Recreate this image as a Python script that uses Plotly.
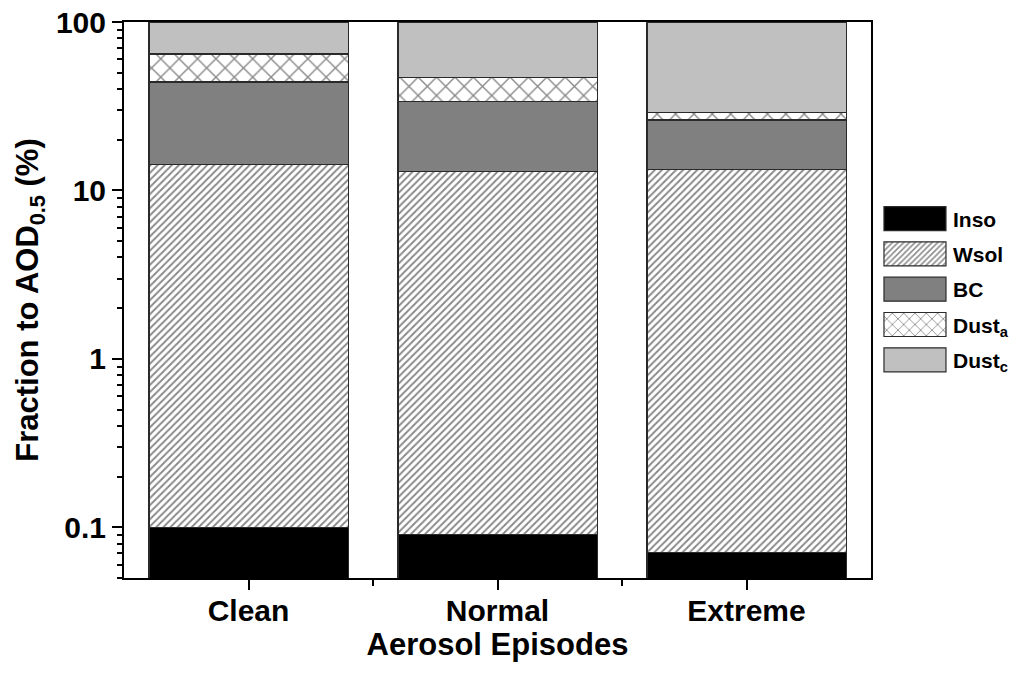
import plotly.graph_objects as go

episodes = ["Clean", "Normal", "Extreme"]
inso = [0.1, 0.091, 0.071]
wsol = [14.2, 12.8, 13.3]
bc = [29.7, 20.8, 12.8]
dust_a = [20.6, 13.0, 2.9]
dust_c = [35.4, 53.31, 70.93]

y_ticks = [0.1, 1, 10, 100]
y_ticktext = ["0.1", "1", "10", "100"]
y_minor = [m * d for d in [0.01, 0.1, 1, 10] for m in range(2, 10)]

FONT = "Liberation Sans, Arial, sans-serif"
xpos = list(range(len(episodes)))
line = dict(color="#2a2a2a", width=1.2)

fig = go.Figure()
fig.add_bar(x=xpos, y=inso, name="Inso", width=0.8,
            marker=dict(color="black", line=line), legendgroup="a")
fig.add_bar(x=xpos, y=wsol, name="Wsol", width=0.8,
            marker=dict(color="white", line=line,
                        pattern=dict(shape="/", fgcolor="#111111", bgcolor="white",
                                     size=5, solidity=0.38)), legendgroup="b")
fig.add_bar(x=xpos, y=bc, name="BC", width=0.8,
            marker=dict(color="#808080", line=line), legendgroup="c")
fig.add_bar(x=xpos, y=dust_a, name="Dust<sub>a</sub>", width=0.8,
            marker=dict(color="white", line=line,
                        pattern=dict(shape="x", fgcolor="#111111", bgcolor="white",
                                     size=13, solidity=0.2)), legendgroup="d")
fig.add_bar(x=xpos, y=dust_c, name="Dust<sub>c</sub>", width=0.8,
            marker=dict(color="#c0c0c0", line=line), legendgroup="e")

fig.update_layout(
    barmode="stack",
    width=1026, height=681,
    margin=dict(l=124, r=155, t=22, b=103),
    plot_bgcolor="white", paper_bgcolor="white",
    font=dict(family=FONT, color="black", size=30, weight="bold"),
    legend=dict(x=1.008, xanchor="left", y=0.519, yanchor="middle",
                traceorder="grouped", tracegroupgap=5,
                font=dict(size=21, family=FONT, weight="bold"),
                bgcolor="rgba(0,0,0,0)", itemwidth=66),
    showlegend=True,
)
fig.update_xaxes(
    range=[-0.5, 2.5], tickvals=xpos, ticktext=episodes,
    ticks="outside", ticklen=10, tickwidth=2, tickcolor="black",
    minor=dict(tickvals=[0.5, 1.5], ticks="outside", ticklen=6, tickwidth=2, tickcolor="black"),
    showline=True, linewidth=2, linecolor="black", mirror=True,
    showgrid=False, zeroline=False, automargin=False,
    ticklabelstandoff=-5,
    tickfont=dict(size=30, family=FONT, weight="bold"),
    title=dict(text="Aerosol Episodes", font=dict(size=31, family=FONT, weight="bold"), standoff=0),
)
fig.update_yaxes(
    type="log", range=[-1.301, 2],
    tickvals=y_ticks, ticktext=y_ticktext,
    ticks="outside", ticklen=10, tickwidth=2, tickcolor="black",
    minor=dict(tickvals=y_minor, ticks="outside", ticklen=5, tickwidth=1.5, tickcolor="black"),
    showline=True, linewidth=2, linecolor="black", mirror=True,
    showgrid=False, zeroline=False, automargin=False,
    tickfont=dict(size=30, family=FONT, weight="bold"),
    title=dict(text="Fraction to AOD<sub>0.5</sub> (%)", font=dict(size=31, family=FONT, weight="bold"), standoff=8),
)

# enlarge the legend swatches to the wide boxes of the reference
post = """
var gd = document.getElementById('{plot_id}');
function widenLegend(){
  gd.querySelectorAll('g.legendpoints path').forEach(function(p){
    p.setAttribute('d', 'M31,12H-31V-12H31Z');
  });
}
widenLegend();
if (gd.on) { gd.on('plotly_afterplot', widenLegend); }
setTimeout(widenLegend, 50);
setTimeout(widenLegend, 300);
setTimeout(widenLegend, 1000);
"""

fig.write_html("out.html", post_script=post)
